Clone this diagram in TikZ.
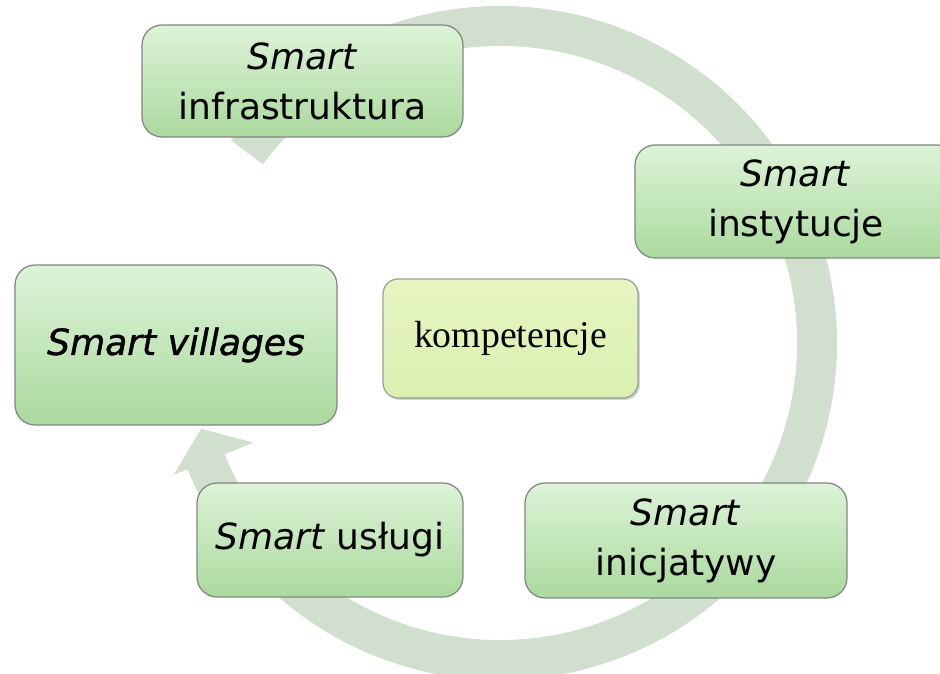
\documentclass[tikz,border=0pt]{standalone}
\usepackage{fontspec}
\newfontfamily\boxfont{DejaVu Sans}
\newfontfamily\heavyfont[FakeBold=1.2]{DejaVu Sans}
\newfontfamily\compfont{Liberation Serif}
\usepackage{tikz}
\usetikzlibrary{shadows}
\definecolor{ringfill}{HTML}{D1E0CE}
\definecolor{boxtop}{HTML}{DDF3D8}
\definecolor{boxbot}{HTML}{ABD99E}
\definecolor{boxline}{HTML}{7E887E}
\definecolor{comptop}{HTML}{E6F5C2}
\definecolor{compbot}{HTML}{DCEFB0}
\tikzset{
  smartbox/.style={draw=boxline,line width=0.7pt,rounded corners=0.4cm,
    top color=boxtop,bottom color=boxbot,align=center,inner sep=0pt,
    font=\boxfont\fontsize{20.5}{28.5}\selectfont},
  compbox/.style={draw=boxline!80,line width=0.7pt,rounded corners=0.3cm,
    top color=comptop,bottom color=compbot,inner sep=0pt,
    drop shadow={opacity=0.35,shadow xshift=0.04cm,shadow yshift=-0.04cm},
    font=\compfont\fontsize{21.5}{26}\selectfont}
}

\begin{document}
\begin{tikzpicture}[x=0.02cm,y=0.02cm]
    \useasboundingbox (0,0) rectangle (940,673);
    \clip (0,0) rectangle (940,673);
    % circular arrow behind the boxes
    \begin{scope}[shift={(500,330)}]
        \fill[ringfill] (143:337) arc[start angle=143,end angle=-158,radius=337]
            -- (-158:352) -- (-164:311) -- (-158:266) -- (-158:297)
            arc[start angle=-158,end angle=143,radius=297] -- cycle;
    \end{scope}
    \node[smartbox,minimum width=6.42cm,minimum height=2.24cm] (infra) at (302.5,592)
        {\textit{Smart}\\infrastruktura};
    \node[smartbox,minimum width=6.44cm,minimum height=2.26cm] (inst) at (796,471.5)
        {\textit{Smart}\\instytucje};
    \node[smartbox,minimum width=6.44cm,minimum height=3.2cm,
        font=\heavyfont\fontsize{20.5}{28.5}\selectfont] (vill) at (176,328)
        {\textit{Smart villages}};
    \node[compbox,minimum width=5.1cm,minimum height=2.38cm] (komp) at (510.5,334.5)
        {kompetencje};
    \node[smartbox,minimum width=5.32cm,minimum height=2.28cm] (uslugi) at (330,133)
        {\textit{Smart} usługi};
    \node[smartbox,minimum width=6.44cm,minimum height=2.3cm] (inic) at (686,132.5)
        {\textit{Smart}\\inicjatywy};
\end{tikzpicture}
\end{document}
